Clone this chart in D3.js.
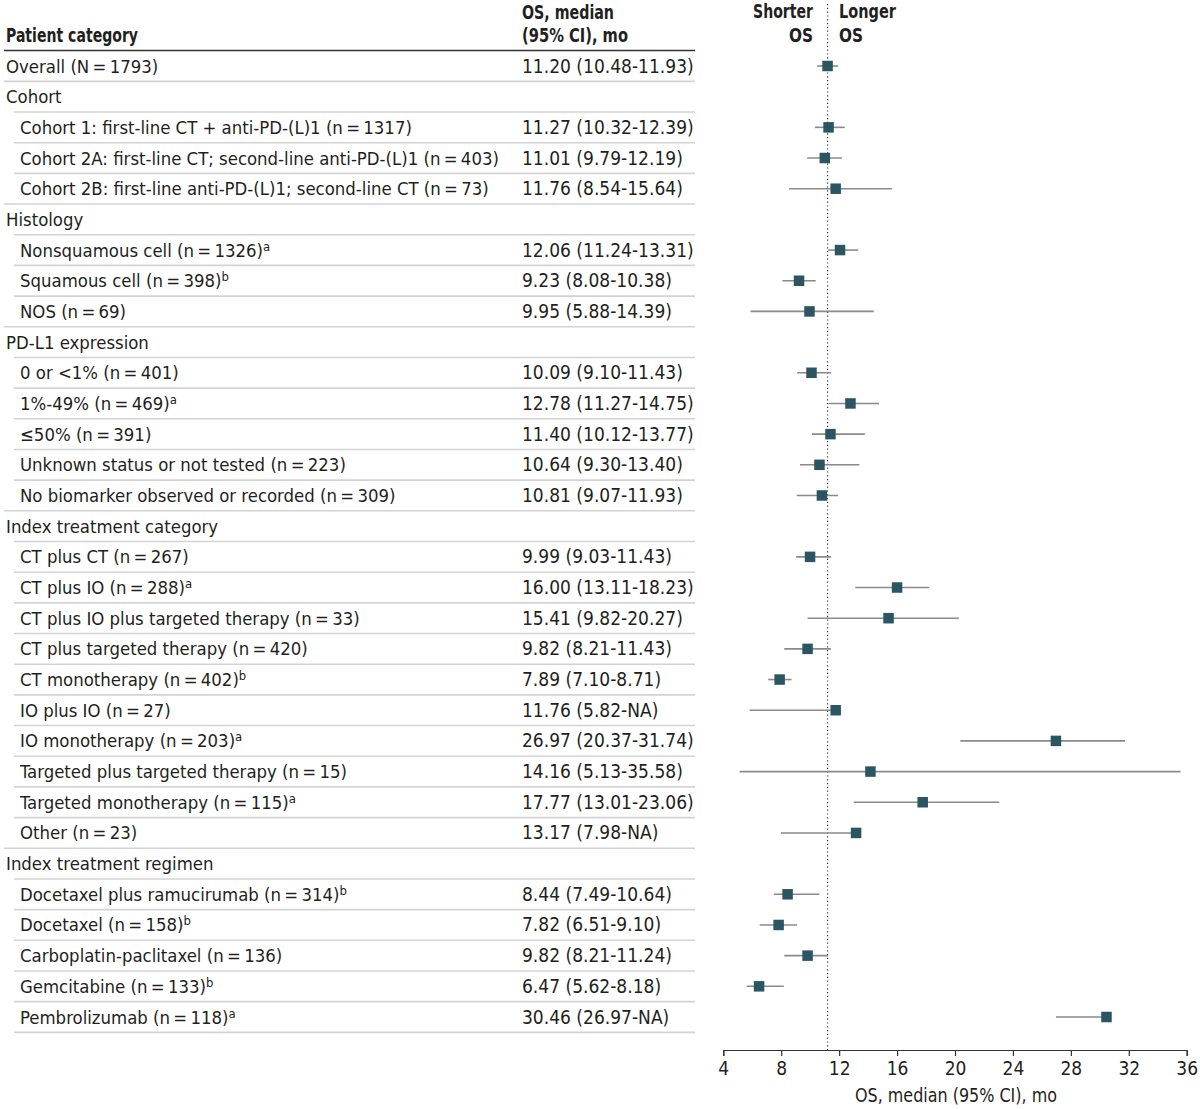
<!DOCTYPE html>
<html><head><meta charset="utf-8">
<script src="https://cdn.jsdelivr.net/npm/d3@7"></script>
<style>
html,body{margin:0;padding:0;background:#fff;}
svg text{fill:#231f20;}
</style></head>
<body>
<svg id="chart" width="1200" height="1109"></svg>
<script>
// ---- data ----
const labels = [
 "Overall (N\u2009=\u20091793)",
 "Cohort",
 "Cohort 1: first-line CT + anti-PD-(L)1 (n\u2009=\u20091317)",
 "Cohort 2A: first-line CT; second-line anti-PD-(L)1 (n\u2009=\u2009403)",
 "Cohort 2B: first-line anti-PD-(L)1; second-line CT (n\u2009=\u200973)",
 "Histology",
 "Nonsquamous cell (n\u2009=\u20091326)",
 "Squamous cell (n\u2009=\u2009398)",
 "NOS (n\u2009=\u200969)",
 "PD-L1 expression",
 "0 or <1% (n\u2009=\u2009401)",
 "1%-49% (n\u2009=\u2009469)",
 "\u226450% (n\u2009=\u2009391)",
 "Unknown status or not tested (n\u2009=\u2009223)",
 "No biomarker observed or recorded (n\u2009=\u2009309)",
 "Index treatment category",
 "CT plus CT (n\u2009=\u2009267)",
 "CT plus IO (n\u2009=\u2009288)",
 "CT plus IO plus targeted therapy (n\u2009=\u200933)",
 "CT plus targeted therapy (n\u2009=\u2009420)",
 "CT monotherapy (n\u2009=\u2009402)",
 "IO plus IO (n\u2009=\u200927)",
 "IO monotherapy (n\u2009=\u2009203)",
 "Targeted plus targeted therapy (n\u2009=\u200915)",
 "Targeted monotherapy (n\u2009=\u2009115)",
 "Other (n\u2009=\u200923)",
 "Index treatment regimen",
 "Docetaxel plus ramucirumab (n\u2009=\u2009314)",
 "Docetaxel (n\u2009=\u2009158)",
 "Carboplatin-paclitaxel (n\u2009=\u2009136)",
 "Gemcitabine (n\u2009=\u2009133)",
 "Pembrolizumab (n\u2009=\u2009118)"
];
// row type: "o" overall, "h" group header, "s" sub-row
const rowTypes = ["o","h","s","s","s","h","s","s","s","h","s","s","s","s","s","h","s","s","s","s","s","s","s","s","s","s","h","s","s","s","s","s"];
const footnotes = ["","","","","","","a","b","","","","a","","","","","","a","","","b","","a","","a","","","b","b","","b","a"];
const medians = [11.20,null,11.27,11.01,11.76,null,12.06,9.23,9.95,null,10.09,12.78,11.40,10.64,10.81,null,9.99,16.00,15.41,9.82,7.89,11.76,26.97,14.16,17.77,13.17,null,8.44,7.82,9.82,6.47,30.46];
const lowers  = [10.48,null,10.32,9.79,8.54,null,11.24,8.08,5.88,null,9.10,11.27,10.12,9.30,9.07,null,9.03,13.11,9.82,8.21,7.10,5.82,20.37,5.13,13.01,7.98,null,7.49,6.51,8.21,5.62,26.97];
const uppers  = [11.93,null,12.39,12.19,15.64,null,13.31,10.38,14.39,null,11.43,14.75,13.77,13.40,11.93,null,11.43,18.23,20.27,11.43,8.71,null,31.74,35.58,23.06,null,null,10.64,9.10,11.24,8.18,null];
const upperText = ["11.93","","12.39","12.19","15.64","","13.31","10.38","14.39","","11.43","14.75","13.77","13.40","11.93","","11.43","18.23","20.27","11.43","8.71","NA","31.74","35.58","23.06","NA","","10.64","9.10","11.24","8.18","NA"];
const lowerText = ["10.48","","10.32","9.79","8.54","","11.24","8.08","5.88","","9.10","11.27","10.12","9.30","9.07","","9.03","13.11","9.82","8.21","7.10","5.82","20.37","5.13","13.01","7.98","","7.49","6.51","8.21","5.62","26.97"];
const medianText = ["11.20","","11.27","11.01","11.76","","12.06","9.23","9.95","","10.09","12.78","11.40","10.64","10.81","","9.99","16.00","15.41","9.82","7.89","11.76","26.97","14.16","17.77","13.17","","8.44","7.82","9.82","6.47","30.46"];
const xTicks = [4,8,12,16,20,24,28,32,36];
const refValue = 11.2;

// ---- layout ----
const FONT = "'Liberation Sans Narrow','DejaVu Sans Condensed','Liberation Sans',sans-serif";
const svg = d3.select("#chart");
const x = d3.scaleLinear().domain([4,36]).range([723.3,1186.7]);
const y = d3.scaleLinear().domain([0,labels.length-1]).range([66,1017]);
const textCol = "#231f20";

svg.style("font-family", FONT);

function boldText(xp, yp, txt, len, anchor){
  svg.append("text").attr("x",xp).attr("y",yp).attr("font-size",19).attr("font-weight","bold")
    .attr("text-anchor",anchor||"start").attr("textLength",len).attr("lengthAdjust","spacingAndGlyphs").text(txt);
}
// headers
boldText(6,42,"Patient category",132);
boldText(522,19,"OS, median",92);
boldText(522,42,"(95% CI), mo",106);
boldText(813,18,"Shorter",60,"end");
boldText(813,42,"OS",24,"end");
boldText(839,18,"Longer",57);
boldText(839,42,"OS",24);

svg.append("line").attr("x1",4).attr("x2",695).attr("y1",50.5).attr("y2",50.5).attr("stroke","#333").attr("stroke-width",1.5);

// separators
const rowH = y(1)-y(0);
labels.forEach((d,i)=>{
  const next = rowTypes[i+1];
  const x1 = (next==="h") ? 4 : 14;
  const yy = y(i)+rowH/2;
  svg.append("line").attr("x1",x1).attr("x2",695).attr("y1",yy).attr("y2",yy).attr("stroke","#d3d3d3").attr("stroke-width",1.6);
});

// labels
const rows = svg.selectAll("g.row").data(labels).join("g").attr("class","row")
  .attr("transform",(d,i)=>`translate(0,${y(i)+6.5})`);
rows.append("text")
  .attr("x",(d,i)=>rowTypes[i]==="s"?20:6)
  .attr("font-size",18.4)
  .each(function(d,i){
    const t = d3.select(this);
    t.append("tspan").text(d);
    if(footnotes[i]) t.append("tspan").attr("font-size",13).attr("dy",-6).text(footnotes[i]);
  });
rows.append("text").attr("x",522).attr("font-size",19)
  .text((d,i)=> medianText[i] ? `${medianText[i]} (${lowerText[i]}-${upperText[i]})` : "");

// reference line
svg.append("line").attr("x1",x(refValue)).attr("x2",x(refValue)).attr("y1",4).attr("y2",1050)
  .attr("stroke","#333").attr("stroke-width",1.2).attr("stroke-dasharray","1.2,2.6");

// CIs and markers
const plotIdx = d3.range(labels.length).filter(i=>medians[i]!==null);
svg.selectAll("line.ci").data(plotIdx).join("line").attr("class","ci")
  .attr("x1",i=>x(lowers[i])).attr("x2",i=>x(uppers[i]===null?medians[i]:uppers[i]))
  .attr("y1",i=>y(i)).attr("y2",i=>y(i)).attr("stroke","#8a8a8a").attr("stroke-width",1.6);
const ms = 10.5;
svg.selectAll("rect.m").data(plotIdx).join("rect").attr("class","m")
  .attr("x",i=>x(medians[i])-ms/2).attr("y",i=>y(i)-ms/2).attr("width",ms).attr("height",ms)
  .attr("fill","#2b5563");

// axis
const axis = d3.axisBottom(x).tickValues(xTicks).tickSize(6).tickPadding(6).tickFormat(d3.format("d"));
const ag = svg.append("g").attr("transform","translate(0,1050)").call(axis);
ag.select(".domain").attr("stroke","#333").attr("stroke-width",1.2);
ag.selectAll(".tick line").attr("stroke","#333").attr("stroke-width",1.2);
ag.selectAll(".tick text").attr("font-size",19).attr("font-family",FONT).attr("fill",textCol);
svg.append("text").attr("x",956).attr("y",1102).attr("text-anchor","middle").attr("font-size",19)
  .attr("textLength",202).attr("lengthAdjust","spacingAndGlyphs").text("OS, median (95% CI), mo");
</script>
</body></html>
